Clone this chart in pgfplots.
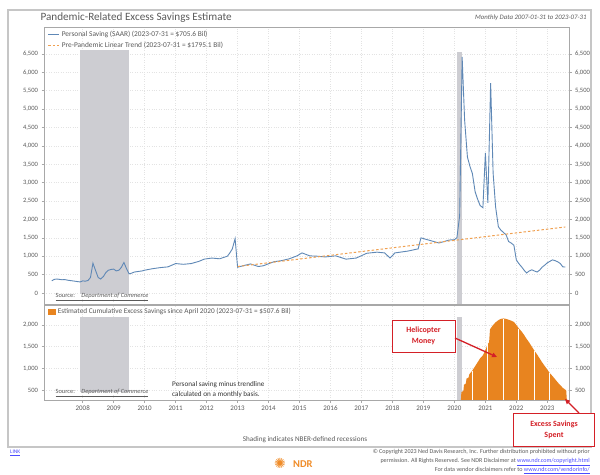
\documentclass[border=0pt]{standalone}
\usepackage{fontspec}
\setmainfont{Carlito}
\newfontfamily\symfont{DejaVu Sans}
\usepackage{pgfplots}
\usepackage{pgfplotstable}
\pgfplotsset{compat=1.18}
\usetikzlibrary{arrows.meta}
\definecolor{saveblue}{HTML}{5F88B6}
\definecolor{trendorange}{HTML}{F0A050}
\definecolor{areaorange}{HTML}{E8841F}
\definecolor{recgray}{HTML}{CDCDD2}
\definecolor{annred}{HTML}{D42027}
\definecolor{axgray}{HTML}{A8A8A8}
\definecolor{txtgray}{HTML}{5A5A5A}
\definecolor{ndrorange}{HTML}{F08C28}

\pgfplotstableread{
x y
2007.00 330
2007.08 370
2007.17 380
2007.25 370
2007.33 360
2007.42 365
2007.50 350
2007.58 340
2007.67 330
2007.75 320
2007.83 310
2007.92 300
2008.00 330
2008.08 320
2008.17 340
2008.25 420
2008.33 810
2008.42 600
2008.50 420
2008.58 380
2008.67 450
2008.75 560
2008.83 620
2008.92 640
2009.00 650
2009.08 600
2009.17 620
2009.25 700
2009.33 830
2009.42 650
2009.50 520
2009.58 540
2009.67 570
2009.75 580
2009.83 590
2009.92 600
2010.00 620
2010.25 660
2010.50 690
2010.75 710
2011.00 800
2011.25 780
2011.50 800
2011.75 860
2011.92 920
2012.17 950
2012.42 930
2012.67 1000
2012.75 1090
2012.83 1200
2012.92 1480
2013.00 700
2013.17 740
2013.42 790
2013.67 720
2013.83 740
2014.17 850
2014.42 880
2014.67 930
2014.92 1010
2015.08 1090
2015.33 1010
2015.58 1000
2015.83 980
2016.17 1010
2016.50 920
2016.83 950
2017.17 1080
2017.50 1110
2017.75 1090
2017.92 950
2018.08 1090
2018.50 1140
2018.83 1200
2018.92 1500
2019.08 1460
2019.25 1420
2019.50 1360
2019.67 1400
2019.83 1440
2020.00 1450
2020.08 1500
2020.17 2100
2020.25 6420
2020.33 4700
2020.42 3700
2020.50 3450
2020.58 3250
2020.67 2750
2020.75 2550
2020.83 2380
2020.92 2320
2021.00 3810
2021.08 2450
2021.17 5710
2021.25 3260
2021.33 2340
2021.42 1800
2021.50 1710
2021.58 1650
2021.67 1580
2021.75 1400
2021.83 1360
2021.92 1300
2022.00 900
2022.08 800
2022.17 710
2022.25 620
2022.33 545
2022.42 600
2022.50 630
2022.58 600
2022.67 570
2022.75 620
2022.83 700
2022.92 760
2023.00 820
2023.08 860
2023.17 900
2023.25 880
2023.33 850
2023.42 800
2023.50 710
2023.58 706
}\saving

\pgfplotstableread{
x y
2013.00 720
2023.58 1795.1
}\trend

\pgfplotstableread{
x y
2020.21 270
2020.225 450
2020.29 480
2020.31 620
2020.37 650
2020.39 760
2020.46 790
2020.48 860
2020.58 950
2020.67 1050
2020.75 1140
2020.83 1230
2020.92 1300
2021.00 1420
2021.08 1560
2021.12 1600
2021.15 1900
2021.25 2000
2021.33 2060
2021.42 2110
2021.50 2140
2021.58 2150
2021.67 2140
2021.75 2120
2021.83 2100
2021.92 2070
2022.00 2000
2022.08 1920
2022.17 1850
2022.25 1770
2022.33 1680
2022.42 1590
2022.50 1500
2022.58 1410
2022.67 1320
2022.75 1230
2022.83 1140
2022.92 1050
2023.00 970
2023.08 890
2023.17 820
2023.25 750
2023.33 680
2023.42 610
2023.50 550
2023.58 508
2023.61 490
2023.63 270
}\excess

\pgfplotsset{
  base/.style={
    scale only axis, width=525bp, anchor=north west,
    xmin=2006.75, xmax=2023.7,
    axis line style={axgray, line width=1bp},
    tick style={axgray, line width=0.6bp},
    tick align=outside, major tick length=2.5bp, minor tick length=1.5bp,
    ticklabel style={text=txtgray, font=\fontsize{6.6}{7}\selectfont},
    /pgf/number format/assume math mode=true,
    /pgf/number format/1000 sep={,},
    scaled y ticks=false,
  },
}

\begin{document}
\begin{tikzpicture}
\path[use as bounding box] (0,0) rectangle (600bp,-475bp);
\fill[white] (0,0) rectangle (600bp,-475bp);
\draw[gray!45, line width=1.2bp] (8bp,-10bp) rectangle (591bp,-447bp);

\node[anchor=west, text=txtgray, font=\fontsize{11.2}{12}\selectfont] at (37bp,-18bp) {Pandemic-Related Excess Savings Estimate};
\node[anchor=east, text=txtgray, font=\itshape\fontsize{6.8}{8}\selectfont] at (590bp,-18bp) {Monthly Data 2007-01-31 to 2023-07-31};

% ---------- top panel ----------
\begin{axis}[base, at={(44bp,-27bp)}, height=277bp,
  ymin=-300, ymax=7235,
  ytick={0,500,...,6500}, ytick pos=left,
  xtick={2008,...,2023}, xticklabels={}, major x tick style={draw=none},
  grid=major, major grid style={gray!22, dotted, line width=0.6bp},
  legend style={at={(0.005,0.997)}, anchor=north west, draw=none, fill=none,
    font=\fontsize{7.4}{8.5}\selectfont, text=txtgray, row sep=0.6bp, inner sep=1bp},
  legend cell align=left,
  legend image code/.code={\draw[#1] (0bp,0bp) -- (11bp,0bp);},
]
\addplot[fill=recgray, draw=none, forget plot] coordinates {(2007.92,-20) (2009.5,-20) (2009.5,6610) (2007.92,6610)} -- cycle;
\addplot[fill=recgray, draw=none, forget plot] coordinates {(2020.08,-300) (2020.25,-300) (2020.25,6560) (2020.08,6560)} -- cycle;
\addplot[saveblue, line width=0.9bp] table[x=x, y=y] {\saving};
\addlegendentry{Personal Saving (SAAR) (2023-07-31 = \$705.6 Bil)}
\addplot[trendorange, line width=1bp, dash pattern=on 2.5bp off 2bp] table[x=x, y=y] {\trend};
\addlegendentry{Pre-Pandemic Linear Trend (2023-07-31 = \$1795.1 Bil)}
\node[anchor=south west, text=txtgray, font=\fontsize{6.4}{7}\selectfont, inner sep=1bp] at (rel axis cs:0.02,0.008) {\underline{Source:\quad \textit{Department of Commerce}}};
\end{axis}
\begin{axis}[base, at={(44bp,-27bp)}, height=277bp,
  ymin=-300, ymax=7235,
  ytick={0,500,...,6500}, ytick pos=right, yticklabel pos=right,
  xtick=\empty]
\addplot[draw=none] coordinates {(2010,0)};
\end{axis}

% ---------- bottom panel ----------
\begin{axis}[base, at={(44bp,-305bp)}, height=95bp,
  ymin=270, ymax=2460,
  ytick={500,1000,1500,2000}, ytick pos=left,
  xtick={2008,...,2023}, minor x tick num=3, xtick pos=bottom,
  x tick label style={/pgf/number format/1000 sep=},
  xticklabel style={font=\fontsize{7}{8}\selectfont},
  grid=major, major grid style={gray!22, dotted, line width=0.6bp},
  legend style={at={(0.005,0.995)}, anchor=north west, draw=none, fill=none,
    font=\fontsize{7.3}{8.5}\selectfont, text=txtgray, inner sep=1bp},
  legend cell align=left,
  legend image code/.code={\fill[#1] (0bp,-3bp) rectangle (8bp,3bp);},
]
\addplot[fill=recgray, draw=none, forget plot] coordinates {(2007.92,450) (2009.5,450) (2009.5,2180) (2007.92,2180)} -- cycle;
\addplot[fill=recgray, draw=none, forget plot] coordinates {(2020.08,270) (2020.25,270) (2020.25,2180) (2020.08,2180)} -- cycle;
\addplot[fill=areaorange, draw=none] table[x=x, y=y] {\excess} -- cycle;
\addlegendentry{Estimated Cumulative Excess Savings since April 2020 (2023-07-31 = \$507.6 Bil)}
\addplot[white, line width=0.9bp, forget plot] coordinates {(2020.58,270) (2020.58,945)};
\addplot[white, line width=0.9bp, forget plot] coordinates {(2021.08,270) (2021.08,1555)};
\addplot[white, line width=0.9bp, forget plot] coordinates {(2021.58,270) (2021.58,2145)};
\addplot[white, line width=0.9bp, forget plot] coordinates {(2022.08,270) (2022.08,1915)};
\addplot[white, line width=0.9bp, forget plot] coordinates {(2022.58,270) (2022.58,1405)};
\addplot[white, line width=0.9bp, forget plot] coordinates {(2023.08,270) (2023.08,885)};
\node[anchor=south west, text=txtgray, font=\fontsize{6.4}{7}\selectfont, inner sep=1bp] at (rel axis cs:0.02,0.02) {\underline{Source:\quad \textit{Department of Commerce}}};
\end{axis}
\begin{axis}[base, at={(44bp,-305bp)}, height=95bp,
  ymin=270, ymax=2460,
  ytick={500,1000,1500,2000}, ytick pos=right, yticklabel pos=right,
  xtick=\empty]
\addplot[draw=none] coordinates {(2010,1000)};
\end{axis}

% ---------- annotations ----------
\node[anchor=north west, align=left, text=black!80, font=\fontsize{7.2}{10.5}\selectfont, inner sep=0pt] at (172bp,-381bp) {Personal saving minus trendline\\calculated on a monthly basis.};

\node[draw=annred, line width=1bp, fill=white, text=annred, font=\bfseries\fontsize{8}{11}\selectfont, align=center, minimum width=63bp, minimum height=32bp, inner sep=1bp] at (423.5bp,-336bp) {Helicopter\\Money};
\draw[annred, line width=1.3bp, -{Triangle[length=5bp,width=4.5bp]}] (455bp,-338bp) -- (497bp,-357bp);

\node[draw=annred, line width=1bp, fill=white, text=annred, font=\bfseries\fontsize{8}{11}\selectfont, align=center, minimum width=81bp, minimum height=33bp, inner sep=1bp] at (554bp,-430bp) {Excess Savings\\Spent};
\draw[annred, line width=1.3bp, -{Triangle[length=5bp,width=4.5bp]}] (579bp,-413bp) -- (565bp,-399bp);

\node[text=txtgray, font=\fontsize{7.2}{8}\selectfont] at (305bp,-440bp) {Shading indicates NBER-defined recessions};

% ---------- footer ----------
\node[anchor=west, text=blue!70, font=\fontsize{5.5}{6}\selectfont, inner sep=0pt] at (10bp,-453bp) {\underline{LINK}};
\node[text=ndrorange, font=\symfont\fontsize{14}{14}\selectfont] at (280bp,-463bp) {✺};
\node[anchor=west, text=ndrorange, font=\bfseries\fontsize{10.5}{11}\selectfont, inner sep=0pt] at (293bp,-464bp) {NDR};
\node[anchor=north east, align=right, text=txtgray, font=\fontsize{6.1}{9}\selectfont, inner sep=0pt] at (590bp,-449bp) {© Copyright 2023 Ned Davis Research, Inc. Further distribution prohibited without prior\\permission. All Rights Reserved. See NDR Disclaimer at \textcolor{blue!70}{\underline{www.ndr.com/copyright.html}}\\For data vendor disclaimers refer to \textcolor{blue!70}{\underline{www.ndr.com/vendorinfo/}}};
\end{tikzpicture}
\end{document}
